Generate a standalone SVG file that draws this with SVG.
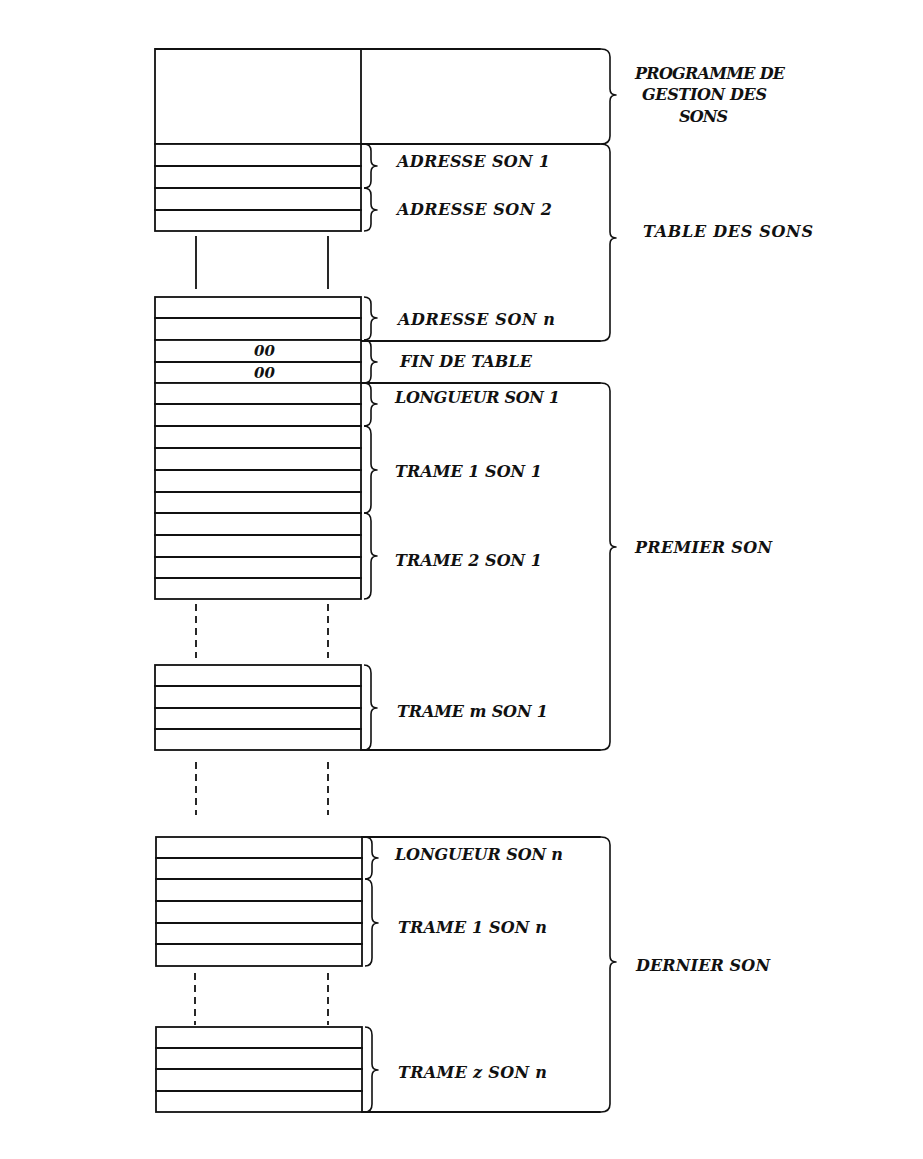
<svg xmlns="http://www.w3.org/2000/svg" width="923" height="1159" viewBox="0 0 923 1159">
<style>
.ln{stroke:#111;stroke-width:1.8;fill:none;stroke-linecap:square}
.br{stroke:#111;stroke-width:1.6;fill:none;stroke-linejoin:round}
.ds{stroke:#111;stroke-width:1.8;fill:none;stroke-dasharray:7 5}
.bx{fill:#fff;stroke:#111;stroke-width:1.8}
text{font-family:"DejaVu Serif","Liberation Serif",serif;font-weight:bold;font-style:italic;font-size:16px;fill:#111}
.z{font-size:15px}
</style>
<rect width="923" height="1159" fill="#fff"/>

<g id="programme">
<path class="ln" d="M155 49H600M155 49V144M361 49V144M155 144H600"/>
<path class="br" d="M601 49Q610 49 610 57V89Q610 95 616 95Q610 95 610 101V136Q610 144 601 144"/>
<text x="635" y="79" textLength="150" lengthAdjust="spacing">PROGRAMME DE</text>
<text x="642" y="100" textLength="125" lengthAdjust="spacing">GESTION DES</text>
<text x="679" y="122" textLength="49" lengthAdjust="spacing">SONS</text>
</g>

<g id="table-des-sons">
<rect class="bx" x="155" y="144" width="206" height="87"/>
<path class="ln" d="M155 166H361M155 188H361M155 210H361"/>
<rect class="bx" x="155" y="297" width="206" height="43"/>
<path class="ln" d="M155 318H361M361 341H600"/>
<path class="br" d="M364 144Q371 144 371 151V160Q371 166 377 166Q371 166 371 172V181Q371 188 364 188"/>
<path class="br" d="M364 188Q371 188 371 195V204Q371 210 377 210Q371 210 371 216V224Q371 231 364 231"/>
<path class="br" d="M364 297Q371 297 371 304V312Q371 318 377 318Q371 318 371 324V333Q371 340 364 340"/>
<text x="397" y="167" textLength="153" lengthAdjust="spacing">ADRESSE SON 1</text>
<text x="397" y="215" textLength="155" lengthAdjust="spacing">ADRESSE SON 2</text>
<text x="398" y="325" textLength="157" lengthAdjust="spacing">ADRESSE SON n</text>
<path class="br" d="M601 144Q610 144 610 152V232Q610 238 616 238Q610 238 610 244V333Q610 341 601 341"/>
<text x="643" y="237" textLength="170" lengthAdjust="spacing">TABLE DES SONS</text>
</g>

<g id="fin-de-table">
<rect class="bx" x="155" y="340" width="206" height="43"/>
<path class="ln" d="M155 362H361M361 383H600"/>
<text class="z" x="254" y="356">00</text>
<text class="z" x="254" y="378">00</text>
<path class="br" d="M364 340Q371 340 371 347V356Q371 362 377 362Q371 362 371 368V376Q371 383 364 383"/>
<text x="400" y="367" textLength="132" lengthAdjust="spacing">FIN DE TABLE</text>
</g>

<g id="premier-son">
<rect class="bx" x="155" y="383" width="206" height="216"/>
<path class="ln" d="M155 404H361M155 426H361M155 448H361M155 470H361M155 492H361M155 513H361M155 535H361M155 557H361M155 578H361"/>
<rect class="bx" x="155" y="665" width="206" height="85"/>
<path class="ln" d="M155 686H361M155 708H361M155 729H361M361 750H600"/>
<path class="br" d="M364 383Q371 383 371 390V398Q371 404 377 404Q371 404 371 410V419Q371 426 364 426"/>
<path class="br" d="M364 426Q371 426 371 434V464Q371 470 377 470Q371 470 371 476V505Q371 513 364 513"/>
<path class="br" d="M364 513Q371 513 371 521V550Q371 556 377 556Q371 556 371 562V591Q371 599 364 599"/>
<path class="br" d="M364 665Q371 665 371 673V702Q371 708 377 708Q371 708 371 714V742Q371 750 364 750"/>
<text x="395" y="403" textLength="165" lengthAdjust="spacing">LONGUEUR SON 1</text>
<text x="395" y="477" textLength="147" lengthAdjust="spacing">TRAME 1 SON 1</text>
<text x="395" y="566" textLength="147" lengthAdjust="spacing">TRAME 2 SON 1</text>
<text x="397" y="717" textLength="151" lengthAdjust="spacing">TRAME m SON 1</text>
<path class="br" d="M601 383Q610 383 610 391V541Q610 547 616 547Q610 547 610 553V742Q610 750 601 750"/>
<text x="635" y="553" textLength="137" lengthAdjust="spacing">PREMIER SON</text>
</g>

<g id="dernier-son">
<rect class="bx" x="156" y="837" width="206" height="129"/>
<path class="ln" d="M362 837H600M156 858H362M156 879H362M156 901H362M156 923H362M156 944H362"/>
<rect class="bx" x="156" y="1027" width="206" height="85"/>
<path class="ln" d="M156 1048H362M156 1069H362M156 1091H362M362 1112H600"/>
<path class="br" d="M365 837Q372 837 372 844V852Q372 858 378 858Q372 858 372 864V872Q372 879 365 879"/>
<path class="br" d="M365 879Q372 879 372 887V917Q372 923 378 923Q372 923 372 929V958Q372 966 365 966"/>
<path class="br" d="M365 1027Q372 1027 372 1035V1064Q372 1070 378 1070Q372 1070 372 1076V1104Q372 1112 365 1112"/>
<text x="395" y="860" textLength="168" lengthAdjust="spacing">LONGUEUR SON n</text>
<text x="398" y="933" textLength="149" lengthAdjust="spacing">TRAME 1 SON n</text>
<text x="398" y="1078" textLength="149" lengthAdjust="spacing">TRAME z SON n</text>
<path class="br" d="M601 837Q610 837 610 845V956Q610 962 616 962Q610 962 610 968V1104Q610 1112 601 1112"/>
<text x="636" y="971" textLength="134" lengthAdjust="spacing">DERNIER SON</text>
</g>

<g id="connectors">
<path class="ln" d="M196 237V288M328 237V288"/>
<path class="ds" d="M196 604V658M328 604V658"/>
<path class="ds" d="M196 762V815M328 762V815"/>
<path class="ds" d="M195 973V1025M328 973V1025"/>
</g>
</svg>
